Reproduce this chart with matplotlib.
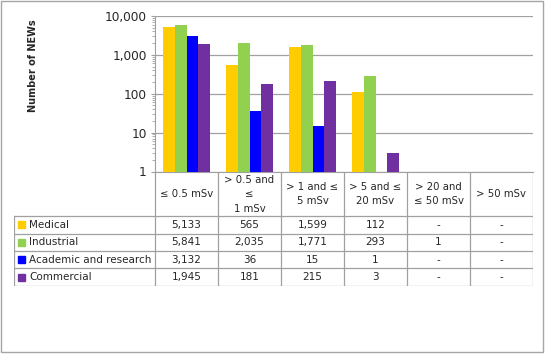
import matplotlib
matplotlib.use("Agg")
import matplotlib.pyplot as plt
from matplotlib.patches import Rectangle
from matplotlib.lines import Line2D
import numpy as np

# ---- data ----
categories = ["\u2264 0.5 mSv", "> 0.5 and\n\u2264\n1 mSv", "> 1 and \u2264\n5 mSv",
              "> 5 and \u2264\n20 mSv", "> 20 and\n\u2264 50 mSv", "> 50 mSv"]
series_names = ["Medical", "Industrial", "Academic and research", "Commercial"]
medical = [5133, 565, 1599, 112, None, None]
industrial = [5841, 2035, 1771, 293, 1, None]
academic = [3132, 36, 15, 1, None, None]
commercial = [1945, 181, 215, 3, None, None]
series_values = [medical, industrial, academic, commercial]
colors = ["#FFCC00", "#92D050", "#0000FF", "#7030A0"]
yticks = [1, 10, 100, 1000, 10000]
ytick_labels = ["1", "10", "100", "1,000", "10,000"]

W, H = 545, 354
fig = plt.figure(figsize=(W / 100, H / 100), dpi=100)
plt.rcParams['font.family'] = ['DejaVu Sans']

def fx(px):
    return px / W

def fy(py):
    return 1 - py / H

# figure border
fig.patches.append(Rectangle((fx(1), fy(351.5)), fx(541.5), (350.5) / H, transform=fig.transFigure,
                             fill=False, edgecolor="#a6a6a6", linewidth=1.0))

grid_col = "#a0a0a0"
txt_col = "#262626"

# ---- chart axes ----
L, R, T, B = 155, 533, 16, 171.5
ax = fig.add_axes([fx(L), fy(B), fx(R - L), (B - T) / H])
ax.set_yscale("log")
ax.set_ylim(1, 10000)
n = len(categories)
ax.set_xlim(0, n)
x = np.arange(n) + 0.5
bw = 0.183
for k, (vals, c) in enumerate(zip(series_values, colors)):
    off = (k - 1.5) * bw
    for i, v in enumerate(vals):
        if v is None or v <= 1:
            continue
        ax.bar(x[i] + off, v - 1, bottom=1, width=bw, color=c, edgecolor="none", zorder=3)
ax.set_yticks(yticks)
ax.set_yticklabels(ytick_labels, fontsize=8.7, color=txt_col)
ax.tick_params(axis="y", which="major", length=3, color=grid_col, pad=3)
ax.tick_params(axis="y", which="minor", length=2, color=grid_col)
ax.set_xticks([])
ax.grid(axis="y", which="major", color=grid_col, linewidth=0.9, zorder=0)
for s in ["top", "right"]:
    ax.spines[s].set_visible(False)
ax.spines["left"].set_color(grid_col)
ax.spines["bottom"].set_color(grid_col)
ax.set_ylabel("Number of NEWs", fontsize=7, fontweight="bold", color=txt_col)
ax.yaxis.set_label_coords((38.5 - L) / (R - L), (B - 66) / (B - T))

# ---- table axes ----
TL, TT, TB = 14, 171.5, 286
tax = fig.add_axes([fx(TL), fy(TB), fx(R - TL), (TB - TT) / H])
tax.set_xlim(TL, R)
tax.set_ylim(TB, TT)
tax.axis("off")
col_edges = [L + (R - L) * i / n for i in range(n + 1)]
row_edges = [216, 233.7, 251, 268.3, 285.7]
lw = 0.9
for xe in col_edges:
    tax.add_line(Line2D([xe, xe], [TT, row_edges[-1]], color=grid_col, lw=lw))
tax.add_line(Line2D([TL, TL], [row_edges[0], row_edges[-1]], color=grid_col, lw=lw))
for ye in row_edges:
    tax.add_line(Line2D([TL, R], [ye, ye], color=grid_col, lw=lw))

# header
for i, cat in enumerate(categories):
    cx = (col_edges[i] + col_edges[i + 1]) / 2
    tax.text(cx, (TT + row_edges[0]) / 2 + 0.5, cat, ha="center", va="center",
             fontsize=7.3, color=txt_col, linespacing=1.55)

# rows
for r, (name, vals, c) in enumerate(zip(series_names, series_values, colors)):
    yc = (row_edges[r] + row_edges[r + 1]) / 2
    tax.add_patch(Rectangle((18, yc - 3.5), 7, 7, color=c))
    tax.text(29, yc, name, ha="left", va="center", fontsize=7.5, color=txt_col)
    for i, v in enumerate(vals):
        cx = (col_edges[i] + col_edges[i + 1]) / 2
        s = "-" if v is None else f"{v:,}"
        tax.text(cx, yc, s, ha="center", va="center", fontsize=7.5, color=txt_col)

fig.savefig("out.png", dpi=100)
